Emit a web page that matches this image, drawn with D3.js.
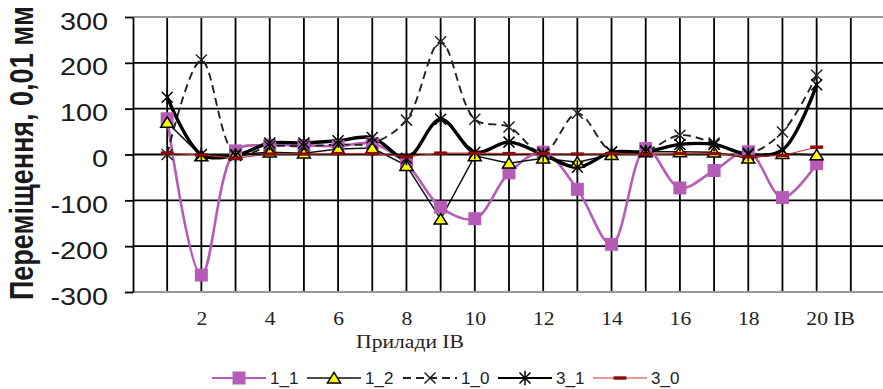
<!DOCTYPE html>
<html>
<head>
<meta charset="utf-8">
<script src="https://cdn.jsdelivr.net/npm/d3@7"></script>
<style>
  body { margin: 0; background: #fff; }
  svg { display: block; }
</style>
</head>
<body>
<svg id="chart" width="883" height="389"></svg>
<script>
// instruments IB 1..20
const instruments = [1, 2, 3, 4, 5, 6, 7, 8, 9, 10, 11, 12, 13, 14, 15, 16, 17, 18, 19, 20];
const xTicks = [2, 4, 6, 8, 10, 12, 14, 16, 18, 20];
const yTicks = [-300, -200, -100, 0, 100, 200, 300];

// displacement, 0.01 mm
const s1_1 = [78, -263, 8, 20, 20, 18, 24, -20, -115, -140, -40, 5, -76, -196, 13, -73, -35, 6, -94, -20];
const s1_2 = [70, -3, 0, 5, 3, 12, 14, -24, -141, -3, -19, -8, -17, 0, 6, 6, 5, -8, 2, -1];
const s1_0 = [0, 206, 0, 18, 18, 22, 25, 75, 246, 77, 60, 3, 90, 6, 8, 42, 25, 3, 49, 173];
const s3_1 = [125, 0, -2, 25, 25, 30, 37, -8, 77, 5, 27, 0, -28, 5, 6, 22, 22, 0, 10, 152];
const s3_0 = [3, -1, -8, 1, 1, 2, 2, -5, 3, 3, 2, 2, 1, 2, 0, 2, 2, -5, -2, 16];

const svg = d3.select("#chart");
const plotLeft = 133, plotRight = 885, plotTop = 17, plotBottom = 292;

const x = d3.scaleLinear().domain([0, 22]).range([plotLeft, plotRight]);
const y = d3.scaleLinear().domain([-300, 300]).range([plotBottom, plotTop]);

// grid
const grid = svg.append("g");
grid.selectAll("line.v")
  .data(d3.range(1, 23))
  .enter()
  .append("line")
  .attr("x1", d => x(d)).attr("x2", d => x(d))
  .attr("y1", plotTop).attr("y2", plotBottom)
  .attr("stroke", "#000").attr("stroke-width", 1.8);
grid.selectAll("line.h")
  .data(yTicks)
  .enter()
  .append("line")
  .attr("x1", plotLeft).attr("x2", plotRight)
  .attr("y1", d => y(d)).attr("y2", d => y(d))
  .attr("stroke", d => Math.abs(d) == 300 ? "#999" : "#000")
  .attr("stroke-width", d => Math.abs(d) == 300 ? 2 : 1.8);

// y axis
const yAxis = svg.append("g")
  .attr("transform", `translate(${plotLeft},0)`)
  .call(d3.axisLeft(y).tickValues(yTicks).tickSize(8).tickSizeOuter(0)
    .tickFormat(d => String(d)));
yAxis.select(".domain").attr("stroke", "#000").attr("stroke-width", 1.8);
yAxis.selectAll(".tick line").attr("stroke", "#000").attr("stroke-width", 1.8);
yAxis.selectAll(".tick text")
  .attr("x", -25 / 1.2)
  .attr("y", 12)
  .attr("dy", null)
  .attr("transform", "scale(1.2,1)")
  .attr("text-anchor", "end")
  .attr("fill", "#1a1a1a")
  .style("font-family", "Arial, 'Liberation Sans', sans-serif")
  .style("font-size", "24px");

// x axis labels
const xAxis = svg.append("g")
  .attr("transform", `translate(0,${plotBottom})`)
  .call(d3.axisBottom(x).tickValues(xTicks).tickSize(0)
    .tickFormat(d => d == 20 ? "20 IB" : d));
xAxis.select(".domain").remove();
xAxis.selectAll(".tick text")
  .attr("y", 33)
  .attr("dy", null)
  .attr("transform", "scale(1.2,1)")
  .attr("text-anchor", d => d == 20 ? "start" : "middle")
  .attr("x", d => d == 20 ? -9 : 0)
  .attr("fill", "#222")
  .style("font-family", "'Times New Roman', 'Liberation Serif', serif")
  .style("font-size", "18px");

svg.append("text")
  .attr("transform", "translate(410,348) scale(1.2,1)")
  .attr("text-anchor", "middle")
  .attr("fill", "#2a2222")
  .style("font-family", "'Times New Roman', 'Liberation Serif', serif")
  .style("font-size", "18px")
  .text("Прилади IB");

svg.append("text")
  .attr("transform", "translate(33,153) scale(1.22,1) rotate(-90)")
  .attr("text-anchor", "middle")
  .attr("fill", "#1a1a1a")
  .style("font-family", "Arial, 'Liberation Sans', sans-serif")
  .style("font-size", "27px")
  .style("font-weight", "bold")
  .text("Переміщення, 0,01 мм");

// markers
const sq = s => `M${-s},${-s}H${s}V${s}H${-s}Z`;
const tri = s => `M0,${-s * 0.85}L${s},${s * 0.75}L${-s},${s * 0.75}Z`;
const cross = s => `M${-s},${-s}L${s},${s}M${-s},${s}L${s},${-s}`;
const star = s => `M${-s},${-s}L${s},${s}M${-s},${s}L${s},${-s}M0,${-s * 1.3}V${s * 1.3}`;
const dash = s => `M${-s},-1.7H${s}V1.7H${-s}Z`;

const series = [
  { name: "1_1", values: s1_1, color: "#b65cb6", width: 2.6, dashed: null, smooth: true,
    marker: sq(6.5), mFill: "#b65cb6", mStroke: "none" },
  { name: "1_2", values: s1_2, color: "#111", width: 1.5, dashed: null, smooth: false,
    marker: tri(6.5), mFill: "#ffff00", mStroke: "#000" },
  { name: "1_0", values: s1_0, color: "#222", width: 1.9, dashed: "8,5", smooth: true,
    marker: cross(5.5), mFill: "none", mStroke: "#222" },
  { name: "3_1", values: s3_1, color: "#000", width: 3.4, dashed: null, smooth: true,
    marker: star(5.5), mFill: "none", mStroke: "#000" },
  { name: "3_0", values: s3_0, color: "#c0392b", width: 1.1, dashed: null, smooth: false,
    marker: dash(6.5), mFill: "#8b0a0a", mStroke: "none" }
];

series.forEach(s => {
  const line = d3.line()
    .x((d, i) => x(instruments[i]))
    .y(d => y(d))
    .curve(s.smooth ? d3.curveCatmullRom.alpha(0.5) : d3.curveLinear);
  svg.append("path")
    .datum(s.values)
    .attr("d", line)
    .attr("fill", "none")
    .attr("stroke", s.color)
    .attr("stroke-width", s.width)
    .attr("stroke-dasharray", s.dashed);
});

series.forEach(s => {
  svg.append("g")
    .selectAll("path")
    .data(s.values)
    .enter()
    .append("path")
    .attr("transform", (d, i) => `translate(${x(instruments[i])},${y(d)})`)
    .attr("d", s.marker)
    .attr("fill", s.mFill)
    .attr("stroke", s.mStroke)
    .attr("stroke-width", 1.5);
});

// legend
const legendX = [212, 307, 403, 498, 593];
const legend = svg.append("g");
series.forEach((s, i) => {
  const g = legend.append("g").attr("transform", `translate(${legendX[i]},378)`);
  g.append("line")
    .attr("x1", 0).attr("x2", 54)
    .attr("stroke", s.color)
    .attr("stroke-width", Math.min(s.width, 2))
    .attr("stroke-dasharray", s.dashed);
  g.append("path")
    .attr("transform", "translate(27,0)")
    .attr("d", s.marker)
    .attr("fill", s.mFill)
    .attr("stroke", s.mStroke)
    .attr("stroke-width", 1.5);
  g.append("text")
    .attr("x", 58)
    .attr("y", 6)
    .attr("fill", "#222")
    .style("font-family", "Arial, 'Liberation Sans', sans-serif")
    .style("font-size", "17px")
    .text(s.name);
});
</script>
</body>
</html>
